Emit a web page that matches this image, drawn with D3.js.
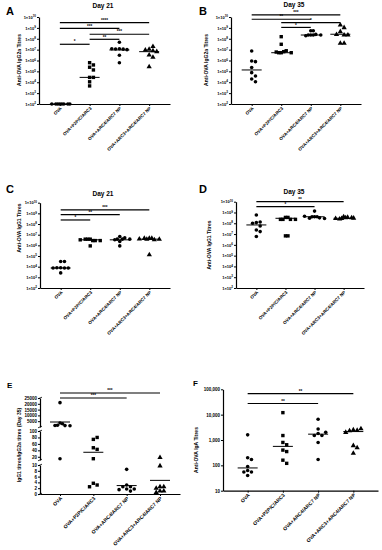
<!DOCTYPE html>
<html>
<head>
<meta charset="utf-8">
<script src="https://d3js.org/d3.v7.min.js"></script>
<style>
  body { margin: 0; background: #fff; }
  text { font-family: "Liberation Sans", Arial, sans-serif; }
</style>
</head>
<body>
<script>
// groups on every panel
var groups = ["OVA", "OVA+P2P/C/ARC3", "OVA+ARC4/ARC7 NP", "OVA+ARC3+ARC4/ARC7 NP"];
var shapeOf = ["circle", "square", "circle", "triangle"];
var logTicks = [1e2, 1e3, 1e4, 1e5, 1e6, 1e7, 1e8, 1e9, 1e10];

// A: IgG2a day 21
var igg2aD21 = [
  [100, 100, 100, 100, 100, 100, 100, 100],
  [6.3e5, 3.9e5, 2.4e5, 1.35e5, 2.8e4, 2.8e4, 1.1e4, 4.6e3],
  [4.7e7, 1.2e7, 1.1e7, 1.15e7, 1.0e7, 3e6, 6.3e5, 1.2e7],
  [1.07e7, 7.9e6, 9.3e6, 1.9e7, 6.5e6, 3.2e6, 1.95e6, 2.7e5]
];
var igg2aD21Mid = [100, 2.8e4, 9.3e6, 6.5e6];
var igg2aD21Sig = [[0, 3, "****", 3e9], [0, 2, "***", 9.1e8], [1, 3, "***", 2.6e8], [1, 2, "**", 8.9e7], [0, 1, "*", 3.1e7]];

// B: IgG2a day 35
var igg2aD35 = [
  [7.4e6, 8.9e5, 7.8e5, 2.3e5, 7.6e4, 3.7e4, 2e4, 1.1e4],
  [1.55e8, 3.1e7, 5.2e6, 6.5e6, 5.2e6, 7.9e6, 6e6, 5.2e6],
  [5.5e8, 5.5e8, 2.2e8, 2.2e8, 2.2e8, 2.5e8, 1.9e8, 2.2e8],
  [1.8e9, 1.05e9, 4.5e8, 2.2e8, 2.5e8, 2.2e8, 3.8e7, 3.8e7]
];
var igg2aD35Mid = [1.35e5, 5.2e6, 2.2e8, 2.6e8];
var igg2aD35Sig = [[0, 3, "***", 1.6e10], [0, 2, "**", 6.2e9], [1, 3, "*", 3e9], [1, 2, "*", 1.1e9]];

// C: IgG1 day 21
var igg1D21 = [
  [3.1e4, 3.1e4, 8e3, 7.5e3, 8e3, 7.5e3, 7.5e3, 2.6e3],
  [3.8e6, 2.8e6, 3.8e6, 2.8e6, 3.8e6, 2.8e6, 3.3e6, 8.9e5],
  [6.6e6, 3.8e6, 3.8e6, 5e6, 3.3e6, 2.3e6, 8.9e5, 3.8e6],
  [4.5e6, 4.5e6, 3.8e6, 3.3e6, 4.5e6, 3.8e6, 4.0e6, 1.3e5]
];
var igg1D21Mid = [7.5e3, 3.3e6, 3.3e6, 3.8e6];
var igg1D21Sig = [[0, 3, "***", 2.1e9], [0, 2, "**", 7.6e8], [0, 1, "*", 2.4e8]];

// D: IgG1 day 35
var igg1D35 = [
  [5.9e8, 1.15e8, 1.3e8, 1.0e8, 5.6e7, 2.4e7, 1.7e7, 5.9e6],
  [3.5e8, 3.5e8, 2.3e8, 2.3e8, 2.3e8, 2.3e8, 6.8e6, 6.8e6],
  [1.35e9, 4e8, 4e8, 4e8, 3.2e8, 3e8, 2.8e8, 4.5e8],
  [4e8, 3.2e8, 2.8e8, 3.5e8, 2.5e8, 3.2e8, 2.8e8, 3e8]
];
var igg1D35Mid = [7e7, 2.9e8, 4e8, 2.9e8];
var igg1D35Sig = [[0, 3, "**", 1e10], [0, 2, "*", 3.5e9]];

// E: IgG1/IgG2a ratio day 35
var ratioD35 = [
  [21000, 3500, 2800, 1500, 1200, 1300, 1100, 14],
  [74, 80, 48, 43, 14, 3.7, 3.1, 2.5],
  [8.5, 3.1, 2.5, 2.5, 1.7, 1.7, 1.5, 1.0],
  [18, 9.7, 2.5, 2.5, 2, 1, 1, 0.5]
];
var ratioD35Mid = [4300, 34, 2.9, 4.7];
var ratioD35Sig = [[0, 3, "***", 29300], [0, 2, "***", 25000]];
var ratioTicksLow = [0, 2, 4, 6, 8, 10];
var ratioTicksMid = [20, 40, 60, 80, 100];
var ratioTicksTop = [5000, 10000, 15000, 20000, 25000];

// F: IgA
var igaTitre = [
  [1600, 200, 170, 90, 63, 55, 55, 40],
  [12000, 1500, 800, 650, 400, 350, 160, 120],
  [6600, 2700, 1800, 1500, 1500, 2000, 800, 170],
  [2500, 2400, 2300, 2800, 2000, 600, 490, 300]
];
var igaMid = [79, 560, 1700, 2150];
var igaSig = [[0, 3, "**", 68000], [0, 2, "**", 27500]];
var igaTicks = [10, 100, 1000, 10000, 100000];

var svg = d3.select("body").append("svg")
    .attr("width", 382)
    .attr("height", 550);

// spread points sideways like a column scatter, squeeze if too wide
function swarm(ys, d, maxHalf) {
  var placed = [];
  ys.forEach(function(py) {
    var k = 0, off = 0;
    while (true) {
      off = k === 0 ? 0 : (k % 2 ? 1 : -1) * Math.ceil(k / 2) * d;
      var hit = placed.some(function(p) {
        return Math.abs(p.y - py) < d && Math.abs(p.x - off) < d;
      });
      if (!hit) break;
      k++;
    }
    placed.push({ x: off, y: py });
  });
  var m = d3.max(placed, function(p) { return Math.abs(p.x); });
  var s = m > maxHalf ? maxHalf / m : 1;
  return placed.map(function(p) { return p.x * s; });
}

function logLabel(sel) {
  sel.each(function(d) {
    var t = d3.select(this);
    t.text("");
    t.append("tspan").text("1×10");
    t.append("tspan").attr("dy", -1.6).attr("font-size", 3).text(Math.round(Math.log10(d)));
  });
}

function drawPanel(p) {
  var g = svg.append("g");
  var x = d3.scalePoint().domain(groups).range([p.x0, p.x1]).padding(p.pad);
  var yPos = p.drawY(g);

  // x axis
  var xa = g.append("g")
      .attr("transform", "translate(0," + p.yB + ")")
      .call(d3.axisBottom(x).tickSize(2).tickSizeOuter(0));
  xa.select(".domain").attr("stroke-width", 1.2);
  xa.selectAll("text")
      .attr("font-size", p.xfs)
      .attr("font-weight", "bold")
      .attr("text-anchor", "end")
      .attr("x", -2).attr("y", 3).attr("dy", "0.35em")
      .attr("transform", "rotate(-45)");

  // letter, title, y title
  g.append("text").attr("x", p.lx).attr("y", p.ly)
      .attr("font-size", p.lfs).attr("font-weight", "bold").text(p.letter);
  if (p.title) {
    g.append("text").attr("x", p.tx).attr("y", p.ty)
        .attr("text-anchor", "middle").attr("font-size", 6.5).attr("font-weight", "bold")
        .text(p.title);
  }
  g.append("text")
      .attr("transform", "translate(" + p.ytx + "," + p.yty + ") rotate(-90)")
      .attr("text-anchor", "middle").attr("font-size", 5).attr("font-weight", "bold")
      .text(p.ytitle);

  // points
  p.data.forEach(function(vals, i) {
    var cx = x(groups[i]);
    var ys = vals.map(yPos);
    var offs = swarm(ys, 3.8, 10);
    ys.forEach(function(py, j) {
      var px = cx + offs[j];
      if (shapeOf[i] === "circle") {
        g.append("circle").attr("cx", px).attr("cy", py).attr("r", 1.8).attr("fill", "#000");
      } else if (shapeOf[i] === "square") {
        g.append("rect").attr("x", px - 1.7).attr("y", py - 1.7).attr("width", 3.4).attr("height", 3.4).attr("fill", "#000");
      } else {
        g.append("path").attr("d", d3.symbol(d3.symbolTriangle, 12)())
            .attr("transform", "translate(" + px + "," + py + ")").attr("fill", "#000");
      }
    });
    g.append("line")
        .attr("x1", cx - 10).attr("x2", cx + 10)
        .attr("y1", yPos(p.mid[i])).attr("y2", yPos(p.mid[i]))
        .attr("stroke", "#000").attr("stroke-width", 1);
  });

  // significance bars
  p.sig.forEach(function(s) {
    var yy = yPos(s[3]);
    var xa0 = x(groups[s[0]]), xa1 = x(groups[s[1]]);
    g.append("line").attr("x1", xa0).attr("x2", xa1).attr("y1", yy).attr("y2", yy)
        .attr("stroke", "#000").attr("stroke-width", 1.2);
    g.append("text").attr("x", (xa0 + xa1) / 2).attr("y", yy - 0.8)
        .attr("text-anchor", "middle").attr("font-size", 4.5).attr("font-weight", "bold")
        .text(s[2]);
  });
}

function logAxis(x0, yT, yB) {
  return function(g) {
    var y = d3.scaleLog().domain([1e2, 1e10]).range([yB, yT]);
    var ax = g.append("g").attr("transform", "translate(" + x0 + ",0)")
        .call(d3.axisLeft(y).tickValues(logTicks).tickSize(2).tickSizeOuter(0));
    ax.select(".domain").attr("stroke-width", 1.2);
    ax.selectAll("text").attr("font-size", 4).attr("font-weight", "bold").attr("x", -3).call(logLabel);
    return y;
  };
}

var common = { pad: 0.7, xfs: 4.5, lfs: 11 };

drawPanel(Object.assign({}, common, {
  letter: "A", lx: 6, ly: 15, title: "Day 21", tx: 103, ty: 8,
  x0: 39, x1: 170, yB: 104, drawY: logAxis(39, 17, 104),
  ytitle: "Anti-OVA IgG2a Titres", ytx: 21, yty: 60,
  data: igg2aD21, mid: igg2aD21Mid, sig: igg2aD21Sig
}));

drawPanel(Object.assign({}, common, {
  letter: "B", lx: 199, ly: 15, title: "Day 35", tx: 294, ty: 7,
  x0: 231, x1: 361, yB: 104, drawY: logAxis(231, 17, 104),
  ytitle: "Anti-OVA IgG2a Titres", ytx: 208, yty: 60,
  data: igg2aD35, mid: igg2aD35Mid, sig: igg2aD35Sig
}));

drawPanel(Object.assign({}, common, {
  letter: "C", lx: 6, ly: 193, title: "Day 21", tx: 103, ty: 196,
  x0: 40, x1: 170, yB: 288, drawY: logAxis(40, 202.7, 288),
  ytitle: "Anti-OVA IgG1 Titres", ytx: 21, yty: 228,
  data: igg1D21, mid: igg1D21Mid, sig: igg1D21Sig
}));

drawPanel(Object.assign({}, common, {
  letter: "D", lx: 199, ly: 193, title: "Day 35", tx: 294, ty: 194,
  x0: 236, x1: 364, yB: 288, drawY: logAxis(236, 201.7, 288),
  ytitle: "Anti-OVA IgG1 Titres", ytx: 211, yty: 245,
  data: igg1D35, mid: igg1D35Mid, sig: igg1D35Sig
}));

// E: broken axis in three pieces
drawPanel(Object.assign({}, common, {
  letter: "E", lx: 7, ly: 388, lfs: 8, xfs: 5, pad: 0.6,
  x0: 40, x1: 180, yB: 494,
  ytitle: "IgG1 titres/IgG2a titres (Day 35)", ytx: 21, yty: 445,
  data: ratioD35, mid: ratioD35Mid, sig: ratioD35Sig,
  drawY: function(g) {
    var low = d3.scaleLinear().domain([0, 10]).range([494, 465]);
    var mid = d3.scaleLinear().domain([10, 100]).range([460, 431]);
    var top = d3.scaleLinear().domain([0, 25000]).range([427, 398]);
    [[low, ratioTicksLow], [mid, ratioTicksMid], [top, ratioTicksTop]].forEach(function(s) {
      var ax = g.append("g").attr("transform", "translate(40,0)")
          .call(d3.axisLeft(s[0]).tickValues(s[1]).tickSize(2).tickSizeOuter(0).tickFormat(function(d) { return d; }));
      ax.select(".domain").attr("stroke-width", 1.2);
      ax.selectAll("text").attr("font-size", 4.5).attr("font-weight", "bold").attr("x", -3);
      // small break marks at the segment ends
      s[0].range().forEach(function(r) {
        ax.append("line").attr("x1", -2).attr("x2", 2).attr("y1", r + 0.8).attr("y2", r - 0.8)
            .attr("stroke", "#000").attr("stroke-width", 0.8);
      });
    });
    return function(v) { return v > 100 ? top(v) : v > 10 ? mid(v) : low(v); };
  }
}));

drawPanel(Object.assign({}, common, {
  letter: "F", lx: 193, ly: 386, lfs: 8, xfs: 5,
  x0: 223, x1: 378, yB: 490.7,
  ytitle: "Anti-OVA IgA Titres", ytx: 198, yty: 450,
  data: igaTitre, mid: igaMid, sig: igaSig,
  drawY: function(g) {
    var y = d3.scaleLog().domain([10, 100000]).range([490.7, 389.3]);
    var ax = g.append("g").attr("transform", "translate(223,0)")
        .call(d3.axisLeft(y).tickValues(igaTicks).tickSize(2).tickSizeOuter(0).tickFormat(d3.format(",")));
    ax.select(".domain").attr("stroke-width", 1.2);
    ax.selectAll("text").attr("font-size", 4.5).attr("font-weight", "bold").attr("x", -3);
    return y;
  }
}));
</script>
</body>
</html>
